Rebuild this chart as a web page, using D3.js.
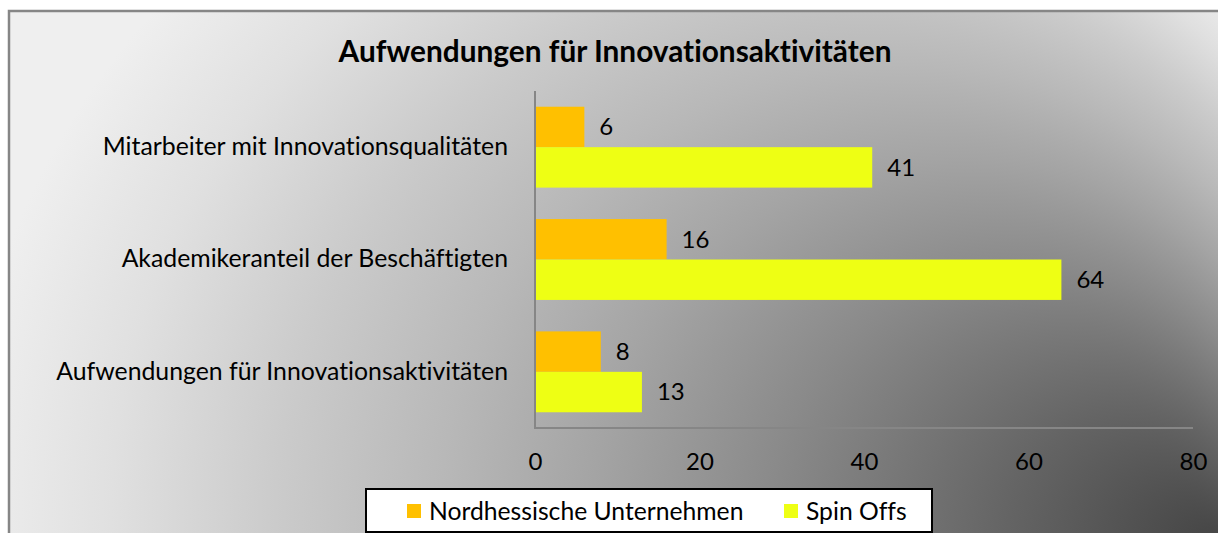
<!DOCTYPE html>
<html>
<head>
<meta charset="utf-8">
<script src="https://cdn.jsdelivr.net/npm/d3@7/dist/d3.min.js"></script>
<style>
  html, body { margin: 0; padding: 0; background: #ffffff; }
  svg { display: block; }
  text { font-family: Lato, "Open Sans", sans-serif; fill: #000; font-variant-ligatures: none; font-feature-settings: "liga" 0, "clig" 0; }
</style>
</head>
<body>
<svg id="chart" width="1218" height="533"></svg>
<script>
// ---- data ----
const categories = [
  "Mitarbeiter mit Innovationsqualitäten",
  "Akademikeranteil der Beschäftigten",
  "Aufwendungen für Innovationsaktivitäten"
];
const seriesNames = ["Nordhessische Unternehmen", "Spin Offs"];
const nordhessischeValues = [6, 16, 8];
const spinOffValues = [41, 64, 13];
const xTicks = [0, 20, 40, 60, 80];
const titleText = "Aufwendungen für Innovationsaktivitäten";

const colors = { "Nordhessische Unternehmen": "#FFC000", "Spin Offs": "#EEFF14" };
const seriesValues = { "Nordhessische Unternehmen": nordhessischeValues, "Spin Offs": spinOffValues };

const svg = d3.select("#chart");
const W = 1218, H = 533;
const FONT = "Lato, 'Open Sans', sans-serif";

// ---- background gradient ----
const defs = svg.append("defs");
const grad = defs.append("radialGradient")
  .attr("id", "bg")
  .attr("gradientUnits", "userSpaceOnUse")
  .attr("cx", 700).attr("cy", 510).attr("r", 740)
  .attr("fx", 1222).attr("fy", 545);
[[0, "#444444"], [0.17, "#646464"], [0.36, "#8a8a8a"], [0.5, "#a4a4a4"],
 [0.62, "#b8b8b8"], [0.75, "#cbcbcb"], [0.88, "#e0e0e0"], [1, "#efefef"]]
  .forEach(([o, c]) => grad.append("stop").attr("offset", o).attr("stop-color", c));

svg.append("rect")
  .attr("x", 9).attr("y", 11).attr("width", W + 20).attr("height", H + 20)
  .attr("fill", "url(#bg)")
  .attr("stroke", "#868686").attr("stroke-width", 2.5);

// ---- scales ----
const x = d3.scaleLinear().domain([0, 80]).range([535, 1193]);
const y = d3.scaleBand().domain(categories).range([91, 428]).paddingInner(0.28).paddingOuter(0.14);
const ySub = d3.scaleBand().domain(seriesNames).range([0, y.bandwidth()]);

// ---- title ----
svg.append("text")
  .attr("x", 615).attr("y", 62)
  .attr("text-anchor", "middle")
  .style("font-weight", "bold").style("font-size", "29.8px")
  .text(titleText);

// ---- bars ----
const groups = svg.append("g").selectAll("g")
  .data(categories).join("g")
  .attr("transform", d => `translate(0,${y(d)})`);

groups.selectAll("rect")
  .data((d, i) => seriesNames.map(s => ({ s, v: seriesValues[s][i] })))
  .join("rect")
  .attr("x", x(0))
  .attr("y", d => ySub(d.s))
  .attr("width", d => x(d.v) - x(0))
  .attr("height", ySub.bandwidth())
  .attr("fill", d => colors[d.s]);

groups.selectAll("text.lbl")
  .data((d, i) => seriesNames.map(s => ({ s, v: seriesValues[s][i] })))
  .join("text")
  .attr("class", "lbl")
  .attr("x", d => x(d.v) + 15)
  .attr("y", d => ySub(d.s) + ySub.bandwidth() / 2)
  .attr("dy", "0.35em")
  .style("font-size", "24px")
  .text(d => d.v);

// ---- axes ----
const yAxis = svg.append("g")
  .attr("transform", `translate(${x(0)},0)`)
  .call(d3.axisLeft(y).tickSize(0).tickPadding(27));
yAxis.select(".domain").remove();
yAxis.selectAll("text").style("font-size", "24.8px").style("font-family", FONT).attr("fill", "#000");

const xAxis = svg.append("g")
  .attr("transform", `translate(0,428)`)
  .call(d3.axisBottom(x).tickValues(xTicks).tickSize(0).tickPadding(25));
xAxis.select(".domain").remove();
xAxis.selectAll("text").style("font-size", "24px").style("font-family", FONT).attr("fill", "#000");

svg.append("line")
  .attr("x1", x(0)).attr("x2", x(0)).attr("y1", 91).attr("y2", 429)
  .attr("stroke", "#868686").attr("stroke-width", 2);
svg.append("line")
  .attr("x1", x(0) - 1).attr("x2", x(80)).attr("y1", 428).attr("y2", 428)
  .attr("stroke", "#868686").attr("stroke-width", 2);

// ---- legend ----
const legend = svg.append("g");
legend.append("rect")
  .attr("x", 366).attr("y", 489).attr("width", 566).attr("height", 43)
  .attr("fill", "#ffffff").attr("stroke", "#000").attr("stroke-width", 2);
const legendX = { "Nordhessische Unternehmen": 407, "Spin Offs": 784 };
const li = legend.selectAll("g.item").data(seriesNames).join("g").attr("class", "item")
  .attr("transform", d => `translate(${legendX[d]},511)`);
li.append("rect").attr("x", 0).attr("y", -7).attr("width", 14).attr("height", 14)
  .attr("fill", d => colors[d]);
li.append("text").attr("x", 22).attr("y", 0).attr("dy", "0.35em")
  .style("font-size", "24.7px").text(d => d);
</script>
</body>
</html>
